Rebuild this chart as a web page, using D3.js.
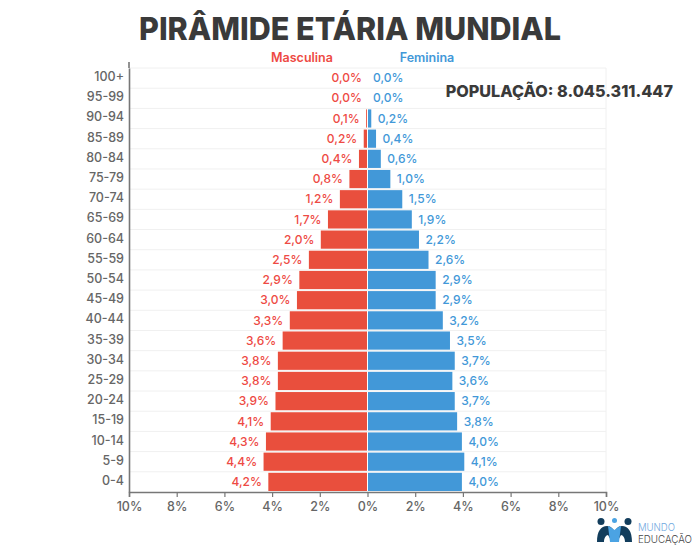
<!DOCTYPE html>
<html>
<head>
<meta charset="utf-8">
<script src="https://cdn.jsdelivr.net/npm/d3@7/dist/d3.min.js"></script>
<style>
  html, body { margin: 0; padding: 0; background: #fff; }
  text { font-family: Inter, "Noto Sans", sans-serif; }
</style>
</head>
<body>
<div id="chart"></div>
<script>
const ageGroups = ["100+","95-99","90-94","85-89","80-84","75-79","70-74","65-69","60-64","55-59","50-54","45-49","40-44","35-39","30-34","25-29","20-24","15-19","10-14","5-9","0-4"];
const male =   [0.0,0.0,0.1,0.2,0.4,0.8,1.2,1.7,2.0,2.5,2.9,3.0,3.3,3.6,3.8,3.8,3.9,4.1,4.3,4.4,4.2];
const female = [0.0,0.0,0.2,0.4,0.6,1.0,1.5,1.9,2.2,2.6,2.9,2.9,3.2,3.5,3.7,3.6,3.7,3.8,4.0,4.1,4.0];
const xTicks = [-10,-8,-6,-4,-2,0,2,4,6,8,10];

const width = 700, height = 554;
const margin = {top: 68, right: 94, bottom: 62, left: 129};
const RED = "#e94f3d", BLUE = "#4298d8", GREY = "#666666";
const fmt = v => v.toFixed(1).replace(".", ",") + "%";

const svg = d3.select("#chart").append("svg")
    .attr("width", width).attr("height", height)
    .attr("viewBox", [0, 0, width, height])
    .style("display", "block");

const x = d3.scaleLinear().domain([-10, 10]).range([margin.left, width - margin.right]);
const y = d3.scaleBand().domain(ageGroups)
    .range([margin.top, height - margin.bottom]).paddingInner(0).paddingOuter(0);

// light grid behind everything
svg.append("g").selectAll("line")
    .data(ageGroups)
    .join("line")
    .attr("x1", x(-10)).attr("x2", x(10))
    .attr("y1", d => y(d)).attr("y2", d => y(d))
    .attr("stroke", "#f0f0f0");
svg.append("line")
    .attr("x1", x(10)).attr("x2", x(10))
    .attr("y1", y.range()[0]).attr("y2", y.range()[1])
    .attr("stroke", "#f0f0f0");

// bars
svg.append("g").attr("fill", RED).selectAll("rect")
    .data(male)
    .join("rect")
    .attr("x", d => Math.min(x(-d) + 1, x(0) - 0.5))
    .attr("y", (d, i) => y(ageGroups[i]) + 1)
    .attr("width", d => Math.max(x(0) - x(-d) - 1.5, 0))
    .attr("height", y.bandwidth() - 2);

svg.append("g").attr("fill", BLUE).selectAll("rect")
    .data(female)
    .join("rect")
    .attr("x", x(0) + 0.5)
    .attr("y", (d, i) => y(ageGroups[i]) + 1)
    .attr("width", d => Math.max(x(d) - x(0) - 1.5, 0))
    .attr("height", y.bandwidth() - 2);

// value labels
svg.append("g").attr("fill", "#ee4a44").attr("text-anchor", "end")
    .style("font-size", "12px").style("font-weight", 500)
    .selectAll("text")
    .data(male)
    .join("text")
    .attr("x", d => x(-d) - 5.5)
    .attr("y", (d, i) => y(ageGroups[i]) + y.bandwidth() / 2)
    .attr("dy", "0.35em")
    .text(fmt);

svg.append("g").attr("fill", BLUE).attr("text-anchor", "start")
    .style("font-size", "12px").style("font-weight", 500)
    .selectAll("text")
    .data(female)
    .join("text")
    .attr("x", d => x(d) + 5.5)
    .attr("y", (d, i) => y(ageGroups[i]) + y.bandwidth() / 2)
    .attr("dy", "0.35em")
    .text(fmt);

// axes
const xAxis = svg.append("g")
    .attr("transform", `translate(0,${height - margin.bottom})`)
    .call(d3.axisBottom(x).tickValues(xTicks).tickFormat(d => Math.abs(d) + "%").tickSize(5).tickPadding(5));
const yAxis = svg.append("g")
    .attr("transform", `translate(${margin.left},0)`)
    .call(d3.axisLeft(y).tickSize(0).tickPadding(5));

[xAxis, yAxis].forEach(a => {
  a.select(".domain").attr("stroke", "#777").attr("stroke-width", 1.6);
  a.selectAll(".tick line").attr("stroke", "#777").attr("stroke-width", 1.2);
  a.selectAll("text").attr("fill", GREY)
    .style("font-family", "Inter, sans-serif")
    .style("font-size", "12.5px").style("font-weight", 500);
});
yAxis.selectAll(".tick text").attr("y", -1);
// the y axis line runs a bit above the first row
svg.append("line")
    .attr("x1", x(-10)).attr("x2", x(-10))
    .attr("y1", 62).attr("y2", y.range()[0])
    .attr("stroke", "#777").attr("stroke-width", 1.6);

// titles
svg.append("text").attr("x", 139).attr("y", 40)
    .attr("fill", "#3a3a3a").style("font-size", "31.5px").style("font-weight", 800)
    .attr("textLength", 422).attr("lengthAdjust", "spacingAndGlyphs")
    .text("PIRÂMIDE ETÁRIA MUNDIAL");
svg.append("text").attr("x", 302).attr("y", 62).attr("text-anchor", "middle")
    .attr("fill", "#ee4a44").style("font-size", "12.5px").style("font-weight", 600)
    .text("Masculina");
svg.append("text").attr("x", 427).attr("y", 62).attr("text-anchor", "middle")
    .attr("fill", BLUE).style("font-size", "12.5px").style("font-weight", 600)
    .text("Feminina");
svg.append("text").attr("x", 673).attr("y", 97).attr("text-anchor", "end")
    .attr("fill", "#3a3a3a").style("font-size", "16.2px").style("font-weight", 800)
    .text("POPULAÇÃO: 8.045.311.447");

// logo
const logo = svg.append("g").attr("transform", "translate(597,518)");
logo.append("path").attr("d", "M0 24C0 13 4 8 10 8C14 8 17 11 18 16L15 24L11 17C9 17 7 20 7 24Z").attr("fill", "#123d5c");
logo.append("path").attr("d", "M35 24C35 13 31 8 25 8C21 8 18 11 17 16L20 24L24 17C26 17 28 20 28 24Z").attr("fill", "#123d5c");
logo.append("path").attr("d", "M11 8C14 9 15 10 17.5 12C20 10 21 9 24 8L22 24H13Z").attr("fill", "#4ba3e3");
logo.append("circle").attr("cx", 4).attr("cy", 3.5).attr("r", 3.5).attr("fill", "#123d5c");
logo.append("circle").attr("cx", 17.5).attr("cy", 2.5).attr("r", 2.5).attr("fill", "#4ba3e3");
logo.append("circle").attr("cx", 31).attr("cy", 3.5).attr("r", 3.5).attr("fill", "#123d5c");
svg.append("text").attr("x", 638).attr("y", 530.5)
    .attr("fill", "#6fa8e0").style("font-size", "10px").style("font-weight", 300)
    .attr("textLength", 37).attr("lengthAdjust", "spacingAndGlyphs").text("MUNDO");
svg.append("text").attr("x", 638).attr("y", 542.5)
    .attr("fill", "#444").style("font-size", "10px").style("font-weight", 300)
    .attr("textLength", 54).attr("lengthAdjust", "spacingAndGlyphs").text("EDUCAÇÃO");
</script>
</body>
</html>
